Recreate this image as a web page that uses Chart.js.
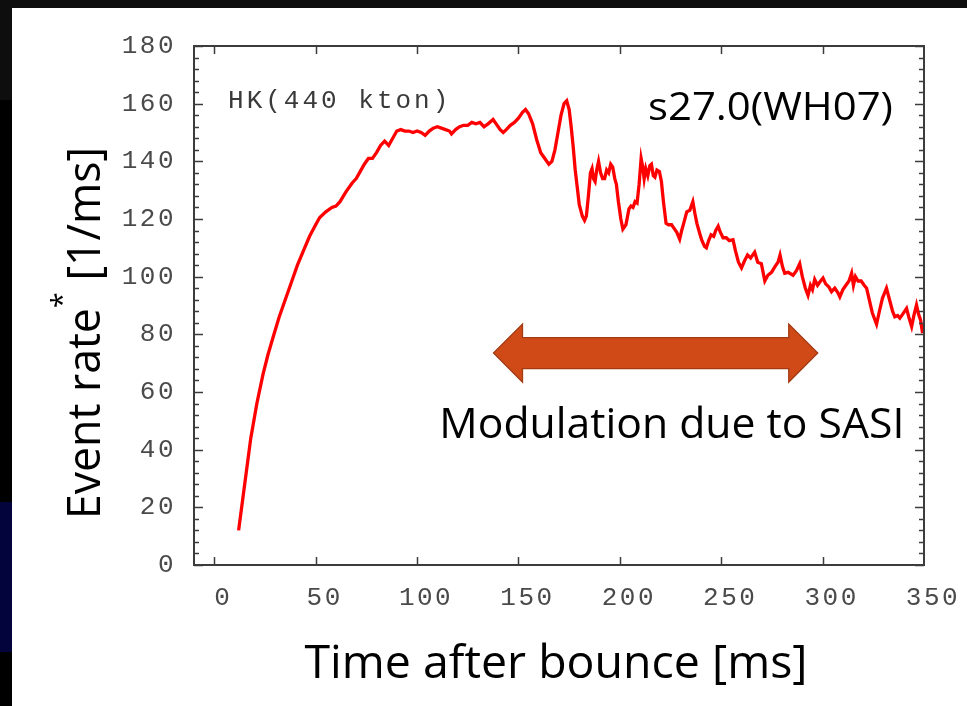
<!DOCTYPE html>
<html><head><meta charset="utf-8">
<script src="https://cdn.jsdelivr.net/npm/chart.js@4/dist/chart.umd.min.js"></script>
<style>
html,body{margin:0;padding:0;background:#000;width:967px;height:706px;overflow:hidden;}
#topbar{position:absolute;left:0;top:0;width:967px;height:8px;background:#0e0e0e;}
#leftTop{position:absolute;left:0;top:0;width:12px;height:100px;background:#0e0e0e;}
#navy{position:absolute;left:0;top:502px;width:12px;height:150px;background:#04043c;}
#panel{position:absolute;left:12px;top:8px;width:955px;height:698px;background:#fff;}
canvas{display:block;}
</style></head><body>
<div id="topbar"></div><div id="leftTop"></div><div id="navy"></div>
<div id="panel"><canvas id="c" width="955" height="698"></canvas></div>
<script>
// ---- data ----
const times = [12,15,18,21,24,26.5,29,32,35,38,41,44,47,50,52,55,58,60,62,65,68,70,72,74,76,78,80,82,84,86,88,90,92,94,96,98,100,102,104,106,108,110,112,114,116,117,119,121,123,125,127,129,131,133,135,137.5,139,141,142.5,144,146,148,150,152,153.5,155,157,159,161,163,165,166.5,168,169.5,171,172.5,173.8,175,176,177,178,179,180,181.5,182.6,183.5,184.5,185.5,186.3,187,187.8,188.6,189.5,190.5,191.5,192.5,193.5,194.5,195.5,196.5,197.5,198.3,199.3,200.5,201.5,203,204.5,205.5,206.5,207.5,208.5,209.5,210.5,211.3,212,212.8,213.8,214.8,215.6,216.5,217.3,218.3,219.5,220.5,221.5,222.8,224,225.5,226.5,228,229.5,230.5,231.5,233,234.5,236,237,238,239.4,240.5,241.8,242.7,243.8,245,246.3,247.3,248.5,249.5,250.9,252.5,254,255.8,257,258.5,260,261.5,263,264.5,266.5,268,269.8,271.5,273,274.8,276.5,278,279,280.2,281.3,283,285.4,287,288.7,290,291.5,292.8,294,295,296.1,297.5,299,300.2,301.5,303,304.4,306,307.5,308.5,310,311.5,313,314.3,315.2,316.2,317.5,319,320.5,321.7,323,324.5,326.6,328,329.5,331.5,333,334.5,335.6,337,338.1,339.5,341.4,342.5,343.9,345,346.3,347.3,348.3,349.3];
const rates = [12,28,44,56,66,73,79,86,92,98,104,109,114,118,120.5,122.5,124,124.5,126,129.5,132.5,134,136.5,139,141,141,143,145.5,147,145.5,148,150.5,151,150.5,150.5,150,150.5,150,149,150.5,151.5,152,151.5,151,150.5,149.5,151,152,152.5,152.5,153.5,153,153.5,152,153,154.5,153,151,150,151,152.5,153.5,155,157,158,156.5,153,147.5,143,141,139,140,144,150,156,160,161,158,152,145,137,131,125,121,119.5,121,128,136,137.5,134,133,137,140,136,134,134,137,136,139,138,134,132,126,120,116.5,118,123.5,124.5,124,126,125.5,132,141,138,134,137.5,135,138.5,139,135,134.5,137,136.5,133,126,118.5,118,118,117,115.5,113,116,118.5,122.5,123,126,122,118.5,115,112.5,110.5,110,112.5,114.5,114,116,117.5,115.5,113.5,113.5,112.5,112.8,109,105,103,105.5,107.5,106.5,108.5,105,104.5,98.5,100.5,101.5,103.5,105,107.5,103.5,101.2,101.5,100.5,102,104.5,100,96,93.5,97,95.5,99,97,98.5,99.5,97.5,96.5,94.8,96,94.5,93,95.5,97,98.5,101.2,97,100,98.5,98.5,97,96,92,87.5,83.5,88,92.5,96,92,88,86.1,86.5,85.6,87,89,86,82.7,86.5,90.2,87,85,80.4];
const xTickValues = [0,50,100,150,200,250,300,350];
const yTickValues = [0,20,40,60,80,100,120,140,160,180];
const seriesLabel = 'HK(440 kton)';
const modelLabel = 's27.0(WH07)';
const noteLabel = 'Modulation due to SASI';
const xTitle = 'Time after bounce [ms]';
const yTitleMain = 'Event rate';
const yTitleStar = '*';
const yTitleUnit = ' [1/ms]';

// ---- styles ----
const MONO = '"Liberation Mono", "DejaVu Sans Mono", monospace';
const SANS = '"Open Sans", "Noto Sans", sans-serif';
const TICK_LS = '2.5px';
const Y_MINOR_STEP = 4;

function fitText(ctx, txt, x, y, size, targetW, align) {
  ctx.save();
  ctx.font = size + 'px ' + SANS;
  const w = ctx.measureText(txt).width;
  const s = targetW / w;
  let x0 = x;
  if (align === 'right') x0 = x - targetW;
  if (align === 'center') x0 = x - targetW / 2;
  ctx.translate(x0, y);
  ctx.scale(s, 1);
  ctx.textAlign = 'left';
  ctx.textBaseline = 'alphabetic';
  ctx.fillStyle = '#000';
  ctx.fillText(txt, 0, 0);
  ctx.restore();
}

const decor = {
  id: 'decor',
  beforeDraw(chart) { chart.ctx.letterSpacing = TICK_LS; },
  afterDraw(chart) {
    const ctx = chart.ctx, ca = chart.chartArea;
    const xs = chart.scales.x, ys = chart.scales.y;
    ctx.save();
    ctx.letterSpacing = '0px';
    // frame
    ctx.strokeStyle = '#3c3c3c';
    ctx.lineWidth = 2;
    ctx.strokeRect(ca.left, ca.top, ca.right - ca.left, ca.bottom - ca.top);
    ctx.lineWidth = 1.5;
    ctx.beginPath();
    xTickValues.forEach(v => {
      const px = Math.round(xs.getPixelForValue(v)) + 0.5;
      if (px > ca.left + 2 && px < ca.right - 2) {
        ctx.moveTo(px, ca.bottom); ctx.lineTo(px, ca.bottom - 8);
        ctx.moveTo(px, ca.top); ctx.lineTo(px, ca.top + 8);
      }
    });
    for (let v = ys.min; v <= ys.max; v += Y_MINOR_STEP) {
      const py = Math.round(ys.getPixelForValue(v)) + 0.5;
      const len = (v % 20 === 0) ? 9 : 5;
      ctx.moveTo(ca.left, py); ctx.lineTo(ca.left + len, py);
      ctx.moveTo(ca.right, py); ctx.lineTo(ca.right - len, py);
    }
    ctx.stroke();

    // HK label
    ctx.fillStyle = '#3a3a3a';
    ctx.font = '26px ' + MONO;
    ctx.letterSpacing = '3px';
    ctx.textAlign = 'left';
    ctx.textBaseline = 'alphabetic';
    ctx.fillText(seriesLabel, xs.getPixelForValue(6.8), ys.getPixelForValue(158.6));
    ctx.letterSpacing = '0px';

    // model label and note
    fitText(ctx, modelLabel, xs.getPixelForValue(334.7), ys.getPixelForValue(154.5), 38, 245, 'right');
    fitText(ctx, noteLabel, xs.getPixelForValue(111), ys.getPixelForValue(44), 42, 465, 'left');

    // double arrow
    const xl = xs.getPixelForValue(137.7), xr = xs.getPixelForValue(297.6);
    const yc = ys.getPixelForValue(73.5);
    const head = 29, shaft = 15.5, hw = 29;
    ctx.beginPath();
    ctx.moveTo(xl, yc);
    ctx.lineTo(xl + head, yc - hw);
    ctx.lineTo(xl + head, yc - shaft);
    ctx.lineTo(xr - head, yc - shaft);
    ctx.lineTo(xr - head, yc - hw);
    ctx.lineTo(xr, yc);
    ctx.lineTo(xr - head, yc + hw);
    ctx.lineTo(xr - head, yc + shaft);
    ctx.lineTo(xl + head, yc + shaft);
    ctx.lineTo(xl + head, yc + hw);
    ctx.closePath();
    ctx.fillStyle = '#D04A18';
    ctx.fill();
    ctx.strokeStyle = '#A33A12';
    ctx.lineWidth = 1.3;
    ctx.stroke();

    // x title
    fitText(ctx, xTitle, (ca.left + ca.right) / 2 - 3, 670, 46, 503, 'center');

    // y title (rotated)
    ctx.save();
    ctx.translate(88, 511);
    ctx.rotate(-Math.PI / 2);
    ctx.font = '46px ' + SANS;
    const w1 = ctx.measureText(yTitleMain).width;
    ctx.font = '30px ' + SANS;
    const w2 = ctx.measureText(yTitleStar).width;
    ctx.font = '46px ' + SANS;
    const w3 = ctx.measureText(yTitleUnit).width;
    const s = 372 / (w1 + w2 + w3);
    ctx.scale(s, 1);
    ctx.fillStyle = '#000';
    ctx.textBaseline = 'alphabetic';
    ctx.fillText(yTitleMain, 0, 0);
    ctx.font = '30px ' + SANS;
    ctx.fillText(yTitleStar, w1, -28);
    ctx.font = '46px ' + SANS;
    ctx.fillText(yTitleUnit, w1 + w2, 0);
    ctx.restore();

    ctx.restore();
  }
};

new Chart(document.getElementById('c'), {
  type: 'line',
  data: {
    datasets: [{
      label: seriesLabel,
      data: times.map((t, i) => ({ x: t, y: rates[i] })),
      borderColor: '#ff0000',
      borderWidth: 3.3,
      pointRadius: 0,
      tension: 0,
      fill: false
    }]
  },
  options: {
    responsive: false,
    animation: false,
    devicePixelRatio: 1,
    layout: { padding: { top: 38, right: 43, left: 0, bottom: 0 } },
    plugins: { legend: { display: false }, tooltip: { enabled: false } },
    scales: {
      x: {
        type: 'linear', min: -10, max: 350,
        grid: { display: false }, border: { display: false },
        afterBuildTicks: s => { s.ticks = xTickValues.map(v => ({ value: v })); },
        afterFit: s => { s.height = 141; },
        ticks: { font: { family: MONO, size: 26 }, color: '#4a4a4a', padding: 10, labelOffset: 9, autoSkip: false, maxRotation: 0, minRotation: 0 }
      },
      y: {
        min: 0, max: 180,
        grid: { display: false }, border: { display: false },
        afterBuildTicks: s => { s.ticks = yTickValues.map(v => ({ value: v })); },
        afterFit: s => { s.width = 182; },
        ticks: { font: { family: MONO, size: 26 }, color: '#4a4a4a', padding: 10, autoSkip: false }
      }
    }
  },
  plugins: [decor]
});
</script>
</body></html>
